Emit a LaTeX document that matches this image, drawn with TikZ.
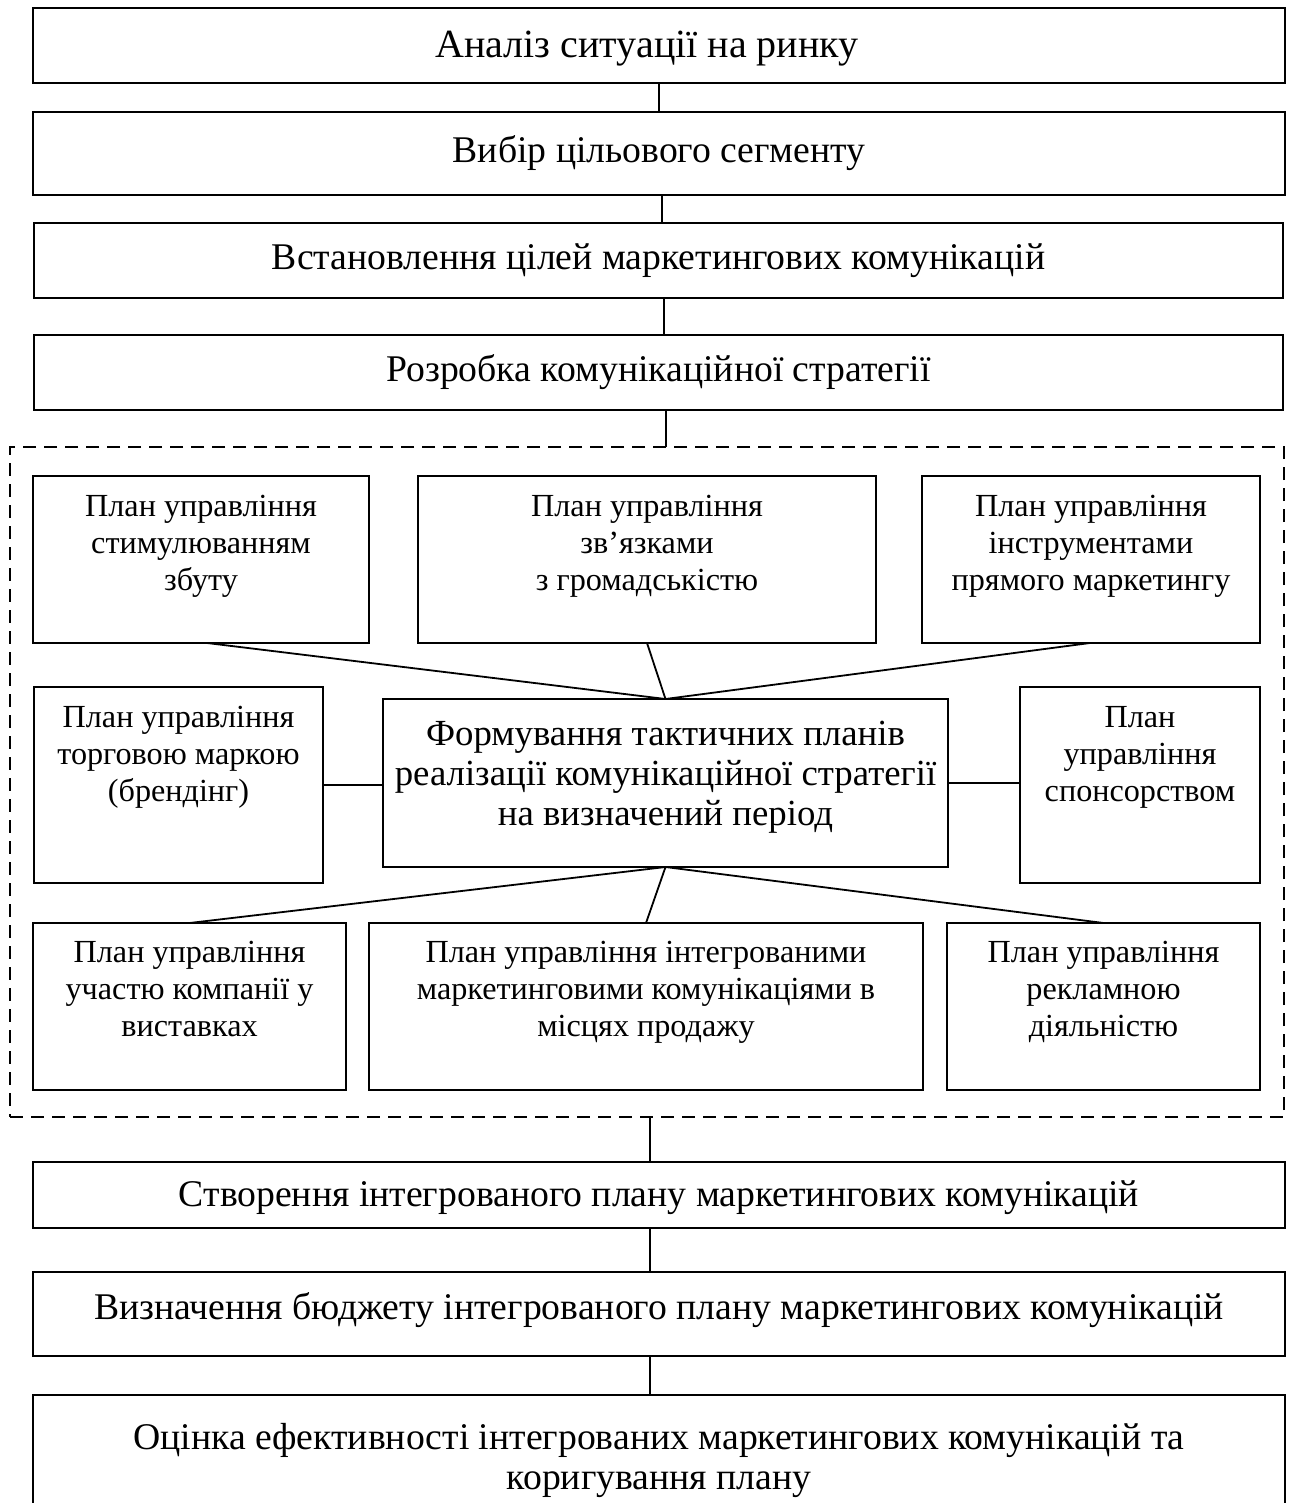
\documentclass[tikz,border=0pt]{standalone}
\usepackage{fontspec}
\setmainfont{Liberation Serif}
\usetikzlibrary{calc}
\newcommand\fbig{\fontsize{37.7}{40}\selectfont}
\newcommand\fmid{\fontsize{36.8}{40}\selectfont}
\newcommand\fhuge{\fontsize{40}{40}\selectfont}
\newcommand\fsmall{\fontsize{32.2}{37}\selectfont}
\begin{document}
\begin{tikzpicture}[x=1pt,y=-1pt,
  box/.style={draw,line width=2pt,rectangle,inner sep=0pt,outer sep=0pt},
  dbox/.style={draw,line width=1.8pt,rectangle,inner sep=0pt,outer sep=0pt,dash pattern=on 13pt off 8pt},
  tbig/.style={inner sep=0pt,align=center,font=\fbig},
  tsmall/.style={inner sep=0pt,align=center,font=\fsmall},
  conn/.style={line width=1.8pt}]
\useasboundingbox[fill=white] (0,0) rectangle (1293,1503);
% top chain
\node[box,minimum width=1252pt,minimum height=75pt] (b1) at (659,45.5) {};
\node[box,minimum width=1252pt,minimum height=83pt] (b2) at (659,153.5) {};
\node[box,minimum width=1249pt,minimum height=75pt] (b3) at (658.5,260.5) {};
\node[box,minimum width=1249pt,minimum height=75pt] (b4) at (658.5,372.5) {};
\node[tbig,font=\fhuge] (tb1) at (647,50) {\strut Аналіз ситуації на ринку};
\node[tbig] (tb2) at (659,155) {\strut Вибір цільового сегменту};
\node[tbig] (tb3) at (658.5,262) {\strut Встановлення цілей маркетингових комунікацій};
\node[tbig] (tb4) at (658.5,373) {\strut Розробка комунікаційної стратегії};
% dashed frame
\node[dbox,minimum width=1274pt,minimum height=670pt] (frame) at (647,782) {};
% plans
\node[box,minimum width=336pt,minimum height=167pt] (p1) at (201,559.5) {};
\node[box,minimum width=458pt,minimum height=167pt] (p2) at (647,559.5) {};
\node[box,minimum width=338pt,minimum height=167pt] (p3) at (1091,559.5) {};
\node[box,minimum width=289pt,minimum height=196pt] (pl) at (178.5,785) {};
\node[box,minimum width=565pt,minimum height=168pt] (pc) at (665.5,783) {};
\node[box,minimum width=240pt,minimum height=196pt] (pr) at (1140,785) {};
\node[box,minimum width=313pt,minimum height=167pt] (q1) at (189.5,1006.5) {};
\node[box,minimum width=554pt,minimum height=167pt] (q2) at (646,1006.5) {};
\node[box,minimum width=313pt,minimum height=167pt] (q3) at (1103.5,1006.5) {};
\node[tsmall] (tp1) at (201,545.6) {\strut План управління\\стимулюванням\\збуту\strut};
\node[tsmall] (tp2) at (647,545.6) {\strut План управління\\зв’язками\\з громадськістю\strut};
\node[tsmall] (tp3) at (1091,545.6) {\strut План управління\\інструментами\\прямого маркетингу\strut};
\node[tsmall] (tpl) at (178.5,757) {\strut План управління\\торговою маркою\\(брендінг)\strut};
\node[tbig,font=\fmid] (tpc) at (665.5,777.7) {\strut Формування тактичних планів\\реалізації комунікаційної стратегії\\на визначений період\strut};
\node[tsmall] (tpr) at (1140,757) {\strut План\\управління\\спонсорством\strut};
\node[tsmall] (tq1) at (189.5,992.3) {\strut План управління\\участю компанії у\\виставках\strut};
\node[tsmall] (tq2) at (646,992.3) {\strut План управління інтегрованими\\маркетинговими комунікаціями в\\місцях продажу\strut};
\node[tsmall] (tq3) at (1103.5,992.3) {\strut План управління\\рекламною\\діяльністю\strut};
% bottom chain
\node[box,minimum width=1252pt,minimum height=66pt] (s1) at (659,1195) {};
\node[box,minimum width=1252pt,minimum height=84pt] (s2) at (659,1314) {};
\node[box,minimum width=1252pt,minimum height=125pt] (s3) at (659,1457.5) {};
\node[tbig] (ts1) at (659,1198) {\strut Створення інтегрованого плану маркетингових комунікацій};
\node[tbig] (ts2) at (659,1311) {\strut Визначення бюджету інтегрованого плану маркетингових комунікацій};
\node[tbig] (ts3) at (659,1461.7) {\strut Оцінка ефективності інтегрованих маркетингових комунікацій та\\коригування плану\strut};
% connectors
\draw[conn] (b1.south) -- (b2.north);
\draw[conn] ([xshift=3pt]b2.south) -- ([xshift=3pt]b2.south |- b3.north);
\draw[conn] ([xshift=5.5pt]b3.south) -- ([xshift=5.5pt]b3.south |- b4.north);
\draw[conn] ([xshift=7.5pt]b4.south) -- ([xshift=7.5pt]b4.south |- frame.north);
\draw[conn] ([xshift=6pt]p1.south) -- (pc.north);
\draw[conn] (p2.south) -- (pc.north);
\draw[conn] ([xshift=-1pt]p3.south) -- (pc.north);
\draw[conn] (pl.east) -- (pl.east -| pc.west);
\draw[conn] (pc.east) -- (pc.east -| pr.west);
\draw[conn] (pc.south) -- (q1.north);
\draw[conn] (pc.south) -- (q2.north);
\draw[conn] (pc.south) -- (q3.north);
\draw[conn] ([xshift=-9pt]frame.south -| s1.north) -- ([xshift=-9pt]s1.north);
\draw[conn] ([xshift=-9pt]s1.south) -- ([xshift=-9pt]s2.north);
\draw[conn] ([xshift=-9pt]s2.south) -- ([xshift=-9pt]s3.north);
\end{tikzpicture}
\end{document}
